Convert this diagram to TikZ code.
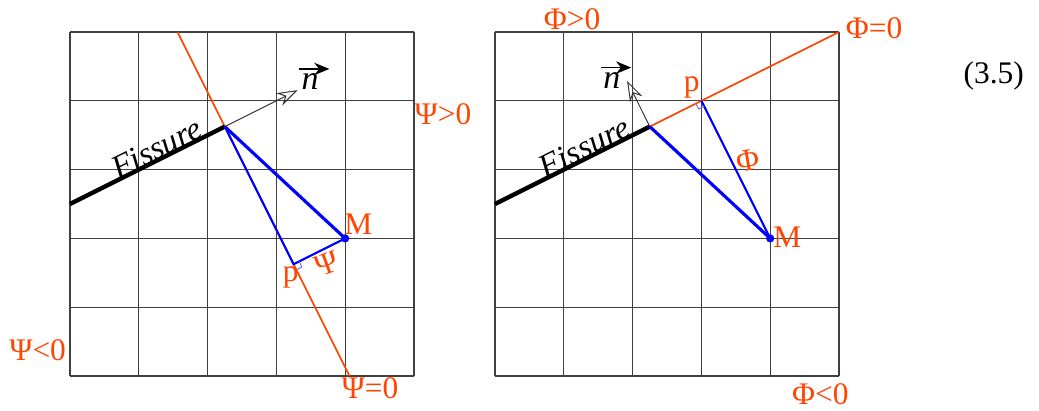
\documentclass[tikz,border=0pt]{standalone}
\usepackage{fontspec}
\setmainfont{Liberation Serif}
\usetikzlibrary{arrows.meta, positioning, calc}
\definecolor{levelred}{RGB}{255,69,0}

\begin{document}
\begin{tikzpicture}[>=Stealth]
        % Styles
        \tikzset{
            gridline/.style={draw=black!75, line width=0.5pt},
            crackline/.style={draw=black, line width=1.8pt},
            levelline/.style={draw=levelred, line width=0.7pt},
            distline/.style={draw=blue, line width=0.85pt},
            distthick/.style={draw=blue, line width=1.3pt},
            rightmark/.style={draw=blue!55, line width=0.4pt},
            levellabel/.style={text=levelred, font=\fontsize{13}{15}\selectfont, inner sep=0pt},
            cracklabel/.style={font=\fontsize{13.5}{15}\selectfont\itshape, inner sep=0pt},
            veclabel/.style={font=\fontsize{14}{16}\selectfont\itshape, inner sep=0pt},
            normalvec/.style={draw=black!80, line width=0.4pt, -{Stealth[open, length=3mm, width=2mm]}},
            vecarrow/.style={draw=black, line width=0.7pt, -{Stealth[length=2.2mm, width=1.8mm]}},
            ptdot/.style={circle, fill=blue, inner sep=0pt, minimum size=3.4pt}
        }

        \useasboundingbox (-1.017,-0.494) rectangle (14.084,5.465);

        % Left panel: Psi
        \begin{scope}
            \draw [gridline] (0,0) grid (5,5);
            \coordinate (startL) at (0,2.5);
            \coordinate (tipL) at (2.25,3.625);
            \coordinate (topL) at (1.5625,5);
            \coordinate (botL) at (4.0625,0);
            \coordinate (pL) at (3.25,1.625);
            \coordinate (nendL) at (3.31,4.155);
            \node [ptdot] (ML) at (4,2) {};

            \draw [levelline] (topL) -- (botL);
            \draw [crackline] (startL) -- (tipL);
            \draw [normalvec] (tipL) -- (nendL);
            \draw [distthick] (tipL) -- (ML.center);
            \draw [distline] (tipL) -- (pL) -- (ML.center);
            \draw [rightmark] ($(pL)+(0.080,0.040)$) -- ++(0.040,-0.080) -- ++(-0.080,-0.040);

            \node [cracklabel, rotate=26.57] (crackL) at (1.26,3.31) {Fissure};
            \node [veclabel] (nL) at (3.49,4.28) {n};
            \draw [vecarrow] ([shift={(-0.03,0.06)}]nL.north west) -- ([shift={(0.15,0.06)}]nL.north east);
            \node [levellabel] (Mlbl) at (4.19,2.2) {M};
            \node [levellabel] (plbl) at (3.21,1.44) {p};
            \node [levellabel, rotate=20] (psi) at (3.74,1.63) {Ψ};
            \node [levellabel] (pospsi) at (5.42,3.81) {Ψ>0};
            \node [levellabel] (negpsi) at (-0.47,0.38) {Ψ<0};
            \node [levellabel] (zeropsi) at (4.36,-0.17) {Ψ=0};
        \end{scope}

        % Right panel: Phi
        \begin{scope}[xshift=6.177cm]
            \draw [gridline] (0,0) grid (5,5);
            \coordinate (startR) at (0,2.5);
            \coordinate (tipR) at (2.25,3.625);
            \coordinate (cornerR) at (5,5);
            \coordinate (pR) at (3,4);
            \coordinate (nendR) at (1.92,4.29);
            \node [ptdot] (MR) at (4,2) {};

            \draw [levelline] (tipR) -- (cornerR);
            \draw [crackline] (startR) -- (tipR);
            \draw [normalvec] (tipR) -- (nendR);
            \draw [distthick] (tipR) -- (MR.center);
            \draw [distline] (pR) -- (MR.center);
            \draw [rightmark] ($(pR)+(0.040,-0.080)$) -- ++(-0.080,-0.040) -- ++(-0.040,0.080);

            \node [cracklabel, rotate=26.57] (crackR) at (1.30,3.33) {Fissure};
            \node [veclabel] (nR) at (1.70,4.30) {n};
            \draw [vecarrow] ([shift={(-0.03,0.06)}]nR.north west) -- ([shift={(0.15,0.06)}]nR.north east);
            \node [levellabel] (MlblR) at (4.25,2.02) {M};
            \node [levellabel] (plblR) at (2.86,4.19) {p};
            \node [levellabel, rotate=10] (phi) at (3.68,3.14) {Φ};
            \node [levellabel] (posphi) at (1.12,5.19) {Φ>0};
            \node [levellabel] (zerophi) at (5.51,5.06) {Φ=0};
            \node [levellabel] (negphi) at (4.73,-0.26) {Φ<0};
            \node [font=\fontsize{13}{15}\selectfont, inner sep=0pt] (eqnum) at (7.25,4.36) {(3.5)};
        \end{scope}
\end{tikzpicture}
\end{document}
